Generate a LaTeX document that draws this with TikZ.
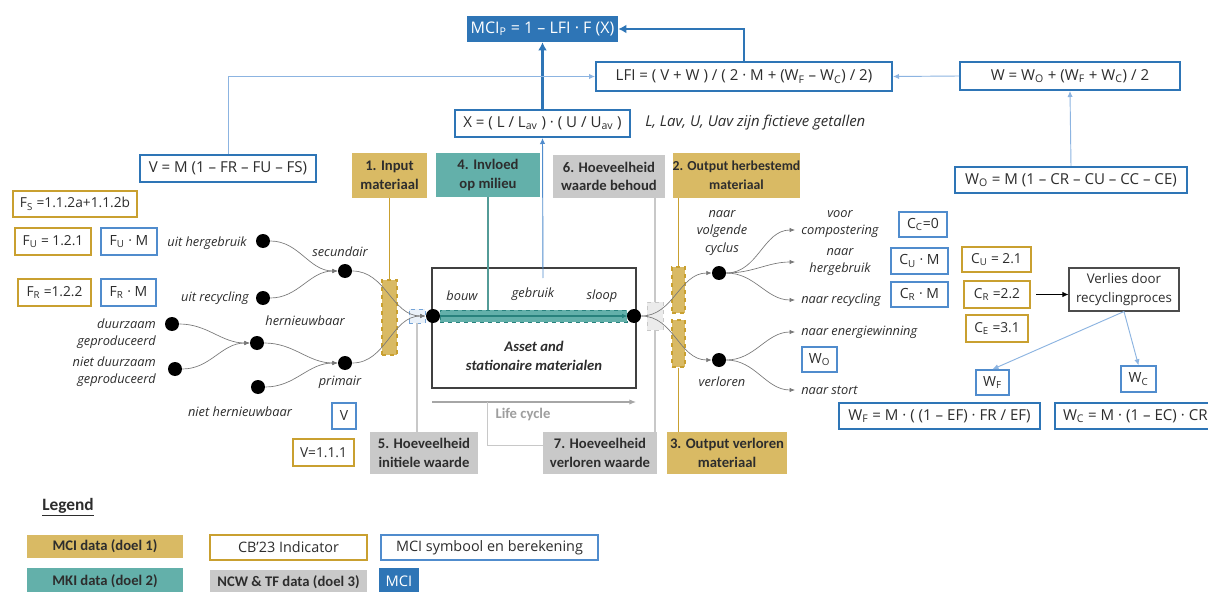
\documentclass[tikz,border=0pt]{standalone}
\usepackage{fontspec}
\setmainfont{Carlito}
\newfontfamily\osans{Open Sans}
\usetikzlibrary{arrows.meta,calc}

\definecolor{mciblue}{RGB}{46,117,182}
\definecolor{symblue}{RGB}{80,140,205}
\definecolor{lightblue}{RGB}{140,180,225}
\definecolor{goldfill}{RGB}{217,186,100}
\definecolor{goldline}{RGB}{201,160,48}
\definecolor{tealfill}{RGB}{99,176,170}
\definecolor{tealdark}{RGB}{40,130,125}
\definecolor{greyfill}{RGB}{201,201,201}
\definecolor{greyline}{RGB}{200,200,200}
\definecolor{flowgrey}{RGB}{120,120,120}
\definecolor{textdark}{RGB}{45,45,45}

\newcommand\sbs[1]{\textsubscript{#1}}

\tikzset{
  % rectangle given by its corners (x1,y1) and (x2,y2)
  area/.style n args={4}{at={({(#1+#3)/2},{(#2+#4)/2})},
    minimum width={(#3-#1)*0.75}, minimum height={(#4-#2)*0.75}},
  formula/.style={draw=mciblue, line width=1.5pt, fill=white, inner sep=0pt, text=textdark,
    font=\osans\fontsize{11.3}{13}\selectfont},
  symb/.style={draw=symblue, line width=1.1pt, fill=white, inner sep=0pt, text=textdark,
    font=\osans\fontsize{10.5}{13}\selectfont},
  indic/.style={draw=goldline, line width=1.1pt, fill=white, inner sep=0pt, text=textdark,
    font=\osans\fontsize{10.3}{13}\selectfont},
  goldlab/.style={fill=goldfill, inner sep=0pt, align=center, text=textdark,
    font=\bfseries\fontsize{11}{14}\selectfont},
  teallab/.style={goldlab, fill=tealfill},
  greylab/.style={goldlab, fill=greyfill},
  dot/.style={circle, fill=black, minimum size=10.5pt, inner sep=0pt},
  flow/.style={draw=flowgrey, line width=0.5pt, -{Latex[length=4pt,width=3.2pt]}},
  flowlab/.style={font=\osans\itshape\fontsize{9.6}{13}\selectfont, text=textdark, inner sep=0pt, align=center},
  dashgold/.style={fill=goldfill, draw=goldline, dashed, line width=0.8pt, inner sep=0pt},
  thinblue/.style={draw=lightblue, line width=0.7pt, -{Latex[length=4.5pt,width=4pt]}},
  thickblue/.style={draw=mciblue, line width=2pt, -{Latex[length=6pt,width=6.5pt]}},
  goldvline/.style={draw=goldline, line width=1pt},
  greyvline/.style={draw=greyline, line width=1.2pt},
}

\begin{document}
\begin{tikzpicture}[x=0.75pt,y=-0.75pt]
\useasboundingbox (0,0) rectangle (1208,592);
\clip (0,0) rectangle (1208,592);
\fill[white] (0,0) rectangle (1208,592);

% ---------- MCI formula chain ----------
\node[fill=mciblue, inner sep=0pt, text=white, font=\osans\fontsize{12}{13}\selectfont,
  area={467}{16}{618}{42}] (mcip) {MCI\sbs{P} = 1 – LFI · F (X)};
\node[formula, area={596}{62}{892}{91}] (lfi) {LFI = ( V + W ) / ( 2 · M + (W\sbs{F} – W\sbs{C}) / 2)};
\node[formula, area={960}{62}{1180}{90}] (w) {W = W\sbs{O} + (W\sbs{F} + W\sbs{C}) / 2};
\node[formula, area={455}{110}{630}{137}] (xbox) {X = ( L / L\sbs{av} ) · ( U / U\sbs{av} )};
\node[flowlab, anchor=west, font=\osans\itshape\fontsize{11.2}{13}\selectfont] (xnote) at (645,123) {L, Lav, U, Uav zijn fictieve getallen};
\node[formula, area={140}{155}{316}{182}] (vbox) {V = M (1 – FR – FU – FS)};
\node[formula, area={955}{167}{1187}{193}] (wo) {W\sbs{O} = M (1 – CR – CU – CC – CE)};

\draw[thickblue] (lfi.north) |- (mcip.east);
\draw[thickblue] (xbox.north) -- (mcip.south);
\draw[thinblue] (w.west) -- (lfi.west -| lfi.east);
\draw[thinblue] (vbox.north) |- (lfi.west);
\draw[thinblue] (wo.north) -- (w.south);

% ---------- category labels ----------
\node[goldlab, area={352}{153}{427}{198}] (in1) {1. Input\\materiaal};
\node[teallab, area={436}{153}{540}{197}] (milieu) {4. Invloed\\op milieu};
\node[greylab, area={553}{155}{665}{198}] (behoud) {6. Hoeveelheid\\waarde behoud};
\node[goldlab, font=\bfseries\fontsize{10.3}{14}\selectfont, area={673}{153}{800}{198}] (herb2) {2. Output herbestemd\\materiaal};
\node[greylab, area={370}{432}{478}{474}] (init5) {5. Hoeveelheid\\initiele waarde};
\node[greylab, area={543}{432}{657}{474}] (verl7) {7. Hoeveelheid\\verloren waarde};
\node[goldlab, area={667}{432}{787}{474}] (out3) {3. Output verloren\\materiaal};

% ---------- indicator and symbol boxes, left ----------
\node[indic, area={13}{191}{137}{217}] (fs) {F\sbs{S} =1.1.2a+1.1.2b};
\node[indic, area={15}{228}{91}{255}] (fu) {F\sbs{U} = 1.2.1};
\node[symb, area={101}{228}{157}{255}] (fum) {F\sbs{U} · M};
\node[indic, area={18}{279}{91}{306}] (fr) {F\sbs{R} =1.2.2};
\node[symb, area={101}{279}{156}{306}] (frm) {F\sbs{R} · M};
\node[symb, area={332}{403}{356}{429}] (vsym) {V};
\node[indic, area={293}{439}{354}{466}] (vind) {V=1.1.1};

% ---------- asset box and life cycle ----------
\node[draw=black!75, line width=0.9pt, fill=white, inner sep=0pt, area={432}{268}{636}{388}] (asset) {};
\node[font=\bfseries\itshape\fontsize{11}{14.5}\selectfont, text=textdark, align=center] (assetl) at (534,356) {Asset and\\stationaire materialen};
\node[flowlab] (bouw) at (462,296) {bouw};
\node[flowlab] (gebruik) at (533,294) {gebruik};
\node[flowlab] (sloop) at (602,296) {sloop};
\node[fill=tealfill, draw=tealdark, dashed, line width=0.7pt, inner sep=0pt, area={440}{310}{627}{322}] (bar) {};
\draw[draw=tealdark, line width=0.8pt, -{Latex[length=4pt,width=3.5pt]}] (bar.west) -- (bar.east);

\node[dashgold, area={382}{280}{397}{355}] (indash) {};
\node[draw=symblue!80, fill=symblue!12, dashed, line width=0.7pt, inner sep=0pt, area={409}{309}{425}{323}] (inrect) {};
\node[draw=greyline, fill=black!8, dashed, line width=0.7pt, inner sep=0pt, area={647}{302}{663}{330}] (greyrect) {};
\node[dashgold, area={672}{267}{685}{313}] (outup) {};
\node[dashgold, area={672}{320}{685}{367}] (outlow) {};

\node[dot] (ldot) at (433,316) {};
\node[dot] (rdot) at (634,316) {};

\coordinate (gebr) at (543,278);
\draw[thinblue, draw=symblue] (gebr) -- (xbox.south);

\draw[goldvline] (in1.south) -- (indash.north);
\draw[draw=tealdark!80, line width=1pt] (milieu.south) -- (milieu.south |- bar.north);
\draw[greyvline] (greyrect.north |- behoud.south) -- (greyrect.north);
\draw[greyvline] (greyrect.south) -- (greyrect.south |- verl7.north);
\draw[greyvline] (inrect.south) -- (inrect.south |- init5.north);
\draw[goldvline] (outup.north |- herb2.south) -- (outup.north);
\draw[goldvline] (outlow.south) -- (outlow.south |- out3.north);

\coordinate (lcs) at (432,402);
\coordinate (lce) at (636,402);
\coordinate (lcmark) at (487,402);
\draw[draw=black!35, line width=0.8pt, -{Latex[length=5pt,width=4pt]}] (lcs) -- (lce);
\draw[draw=greyline, line width=0.7pt] (lcmark) |- ([yshift=6pt]verl7.west);
\node[font=\bfseries\fontsize{11}{13}\selectfont, text=black!38] (lifecycle) at (523,415) {Life cycle};

% ---------- input flows ----------
\node[dot] (uh) at (263,241) {};
\node[dot] (ur) at (263,298) {};
\node[dot] (sec) at (345,271) {};
\node[dot] (dz) at (172,324) {};
\node[dot] (ndz) at (175,369) {};
\node[dot] (her) at (257,343) {};
\node[dot] (prim) at (345,363) {};
\node[dot] (nh) at (258,387) {};

\node[flowlab, anchor=east] (uhl) at (247,243) {uit hergebruik};
\node[flowlab, anchor=east] (url) at (249,298) {uit recycling};
\node[flowlab] (secl) at (340,252) {secundair};
\node[flowlab] (herl) at (305,321) {hernieuwbaar};
\node[flowlab, anchor=east, align=right] (dzl) at (156,334) {duurzaam\\geproduceerd};
\node[flowlab, anchor=east, align=right] (ndzl) at (156,372) {niet duurzaam\\geproduceerd};
\node[flowlab] (priml) at (340,382) {primair};
\node[flowlab] (nhl) at (240,412) {niet hernieuwbaar};

\draw[flow] (uh) to[out=0,in=180] (sec);
\draw[flow] (ur) to[out=0,in=180] (sec);
\draw[flow] (dz) to[out=0,in=180] (her);
\draw[flow] (ndz) to[out=0,in=180] (her);
\draw[flow] (her) to[out=0,in=180] (prim);
\draw[flow] (nh) to[out=0,in=180] (prim);
\draw[flow] (sec) to[out=0,in=180] (inrect.east);
\draw[flow] (prim) to[out=0,in=180] (inrect.east);

% ---------- output flows ----------
\node[dot] (volg) at (719,273) {};
\node[dot] (verlo) at (719,360) {};
\coordinate (tcomp) at (795,230);
\coordinate (therg) at (795,262);
\coordinate (trec) at (795,300);
\coordinate (tener) at (795,332);
\coordinate (tstort) at (795,390);

\draw[flow] (rdot) to[out=0,in=180] (volg);
\draw[flow] (rdot) to[out=0,in=180] (verlo);
\draw[flow] (volg) to[out=0,in=180] (tcomp);
\draw[flow] (volg) to[out=0,in=180] (therg);
\draw[flow] (volg) to[out=0,in=180] (trec);
\draw[flow] (verlo) to[out=0,in=180] (tener);
\draw[flow] (verlo) to[out=0,in=180] (tstort);

\node[flowlab] (volgl) at (722,233) {naar\\volgende\\cyclus};
\node[flowlab] (verlol) at (722,382) {verloren};
\node[flowlab] (compl) at (840,224) {voor\\compostering};
\node[flowlab] (hergl) at (840,262) {naar\\hergebruik};
\node[flowlab, anchor=west] (recl) at (801,300) {naar recycling};
\node[flowlab, anchor=west] (enerl) at (801,332) {naar energiewinning};
\node[flowlab, anchor=west] (stortl) at (801,390) {naar stort};

% ---------- symbol and indicator boxes, right ----------
\node[symb, area={899}{212}{947}{237}] (cc) {C\sbs{C}=0};
\node[symb, area={891}{248}{948}{274}] (cum) {C\sbs{U} · M};
\node[symb, area={891}{282}{948}{307}] (crm) {C\sbs{R} · M};
\node[symb, area={802}{347}{837}{372}] (wosym) {W\sbs{O}};
\node[indic, area={962}{247}{1031}{272}] (cugold) {C\sbs{U} = 2.1};
\node[indic, area={964}{281}{1030}{308}] (crgold) {C\sbs{R} =2.2};
\node[indic, area={966}{315}{1028}{342}] (cegold) {C\sbs{E} =3.1};
\node[draw=black!70, line width=0.8pt, fill=white, inner sep=0pt, align=center, text=textdark,
  font=\osans\fontsize{10}{14}\selectfont, area={1069}{268}{1179}{311}] (verlies) {Verlies door\\recyclingproces};
\draw[draw=black, line width=0.6pt, -{Latex[length=4.5pt,width=4pt]}] (crgold.east) ++(4pt,0) -- (crgold.east -| verlies.west);
\node[symb, area={976}{370}{1009}{395}] (wf) {W\sbs{F}};
\node[symb, area={1121}{366}{1156}{392}] (wc) {W\sbs{C}};
\draw[thinblue] (verlies.south) -- (wf.north);
\draw[thinblue] (verlies.south) -- (wc.north);
\node[formula, area={839}{403}{1040}{429}] (wfform) {W\sbs{F} = M · ( (1 – EF) · FR / EF)};
\node[formula, anchor=west, minimum height=19.5pt, inner xsep=6pt] (wcform) at (1054,416) {W\sbs{C} = M · (1 – EC) · CR\hspace*{24pt}};

% ---------- legend ----------
\node[anchor=west, inner sep=0pt, font=\bfseries\fontsize{13}{15}\selectfont, text=textdark] (legend) at (42,507) {\underline{Legend}};
\node[goldlab, area={27}{535}{183}{558}] (lg1) {MCI data (doel 1)};
\node[teallab, area={27}{568}{183}{594}] (lg2) {MKI data (doel 2)};
\node[indic, font=\osans\fontsize{10.8}{13}\selectfont, area={210}{535}{367}{560}] (lg3) {CB’23 Indicator};
\node[greylab, area={210}{570}{367}{594}] (lg4) {NCW \& TF data (doel 3)};
\node[symb, font=\osans\fontsize{10.8}{13}\selectfont, area={381}{535}{598}{560}] (lg5) {MCI symbool en berekening};
\node[fill=mciblue, text=white, inner sep=0pt, font=\osans\fontsize{11}{13}\selectfont, area={379}{568}{419}{594}] (lg6) {MCI};
\end{tikzpicture}
\end{document}
